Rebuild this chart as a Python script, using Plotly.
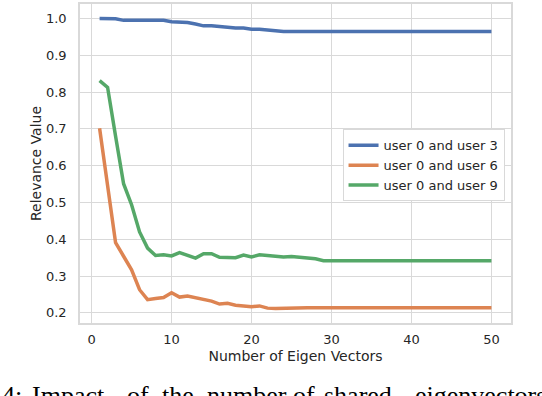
import plotly.graph_objects as go

# number of eigen vectors
n_vectors = list(range(1, 51))

# relevance values
user_0_3 = [1.000, 1.000, 0.9995, 0.995, 0.995, 0.994, 0.994, 0.994, 0.995, 0.991,
            0.990, 0.989, 0.985, 0.980, 0.980, 0.978, 0.975, 0.974, 0.974, 0.971,
            0.971, 0.968, 0.967, 0.965, 0.965] + [0.965] * 25
user_0_6 = [0.702, 0.550, 0.391, 0.354, 0.317, 0.263, 0.236, 0.239, 0.242, 0.255,
            0.243, 0.246, 0.241, 0.237, 0.232, 0.224, 0.226, 0.221, 0.219, 0.217,
            0.219, 0.213, 0.212, 0.213, 0.213] + [0.214] * 25
user_0_9 = [0.831, 0.813, 0.680, 0.551, 0.494, 0.420, 0.376, 0.356, 0.358, 0.355,
            0.364, 0.356, 0.349, 0.361, 0.361, 0.351, 0.350, 0.350, 0.357, 0.352,
            0.358, 0.355, 0.354, 0.352, 0.353, 0.351, 0.349, 0.347, 0.342] + [0.342] * 21

series = [
    ("user 0 and user 3", user_0_3, "#4C72B0"),
    ("user 0 and user 6", user_0_6, "#DD8452"),
    ("user 0 and user 9", user_0_9, "#55A868"),
]

# caption words of the paper figure (cut off by the crop) and their left edges in px
caption_words = ["4:", "Impact", "of", "the", "number", "of", "shared", "eigenvectors"]
caption_left = [0, 30, 125, 160, 205, 291, 322, 413]

W, H = 542, 396
L, R, T, B = 80, 31, 2, 73

fig = go.Figure()
for name, vals, color in series:
    fig.add_trace(go.Scatter(x=n_vectors, y=vals, mode="lines", name=name,
                             line=dict(color=color, width=3.5)))

grid = "#d9d9d9"
fig.update_layout(
    width=W, height=H,
    margin=dict(l=L, r=R, t=T, b=B),
    paper_bgcolor="white", plot_bgcolor="white",
    font=dict(family="DejaVu Sans", size=13, color="#262626"),
    showlegend=True,
    legend=dict(x=0.985, y=0.607, xanchor="right", yanchor="top",
                bgcolor="white", bordercolor=grid, borderwidth=1,
                font=dict(size=13), itemwidth=30, tracegroupgap=0),
)
fig.update_xaxes(range=[-1.45, 52.45], dtick=10, tick0=0,
                 showgrid=True, gridcolor=grid, gridwidth=1,
                 showline=True, linecolor=grid, linewidth=1.5, mirror=True,
                 zeroline=False, ticks="outside", ticklen=4, tickcolor="rgba(0,0,0,0)",
                 title=dict(text="Number of Eigen Vectors", font=dict(size=14), standoff=5))
fig.update_yaxes(range=[0.1726, 1.0394], dtick=0.1, tick0=0, tickformat=".1f",
                 showgrid=True, gridcolor=grid, gridwidth=1,
                 showline=True, linecolor=grid, linewidth=1.5, mirror=True,
                 zeroline=False, ticks="outside", ticklen=9, tickcolor="rgba(0,0,0,0)",
                 title=dict(text="Relevance Value", font=dict(size=14), standoff=1))

pw, ph = W - L - R, H - T - B
for word, left in zip(caption_words, caption_left):
    fig.add_annotation(text=word, xref="paper", yref="paper",
                       x=(left - L) / pw, y=(H - B - 379) / ph,
                       xanchor="left", yanchor="top", showarrow=False,
                       font=dict(family="Liberation Serif", size=26, color="black"))

# drop the default page margin so the figure sits at the window's corner
fig.write_html("out.html", config={"displayModeBar": False},
               post_script="document.body.style.margin='0';")
